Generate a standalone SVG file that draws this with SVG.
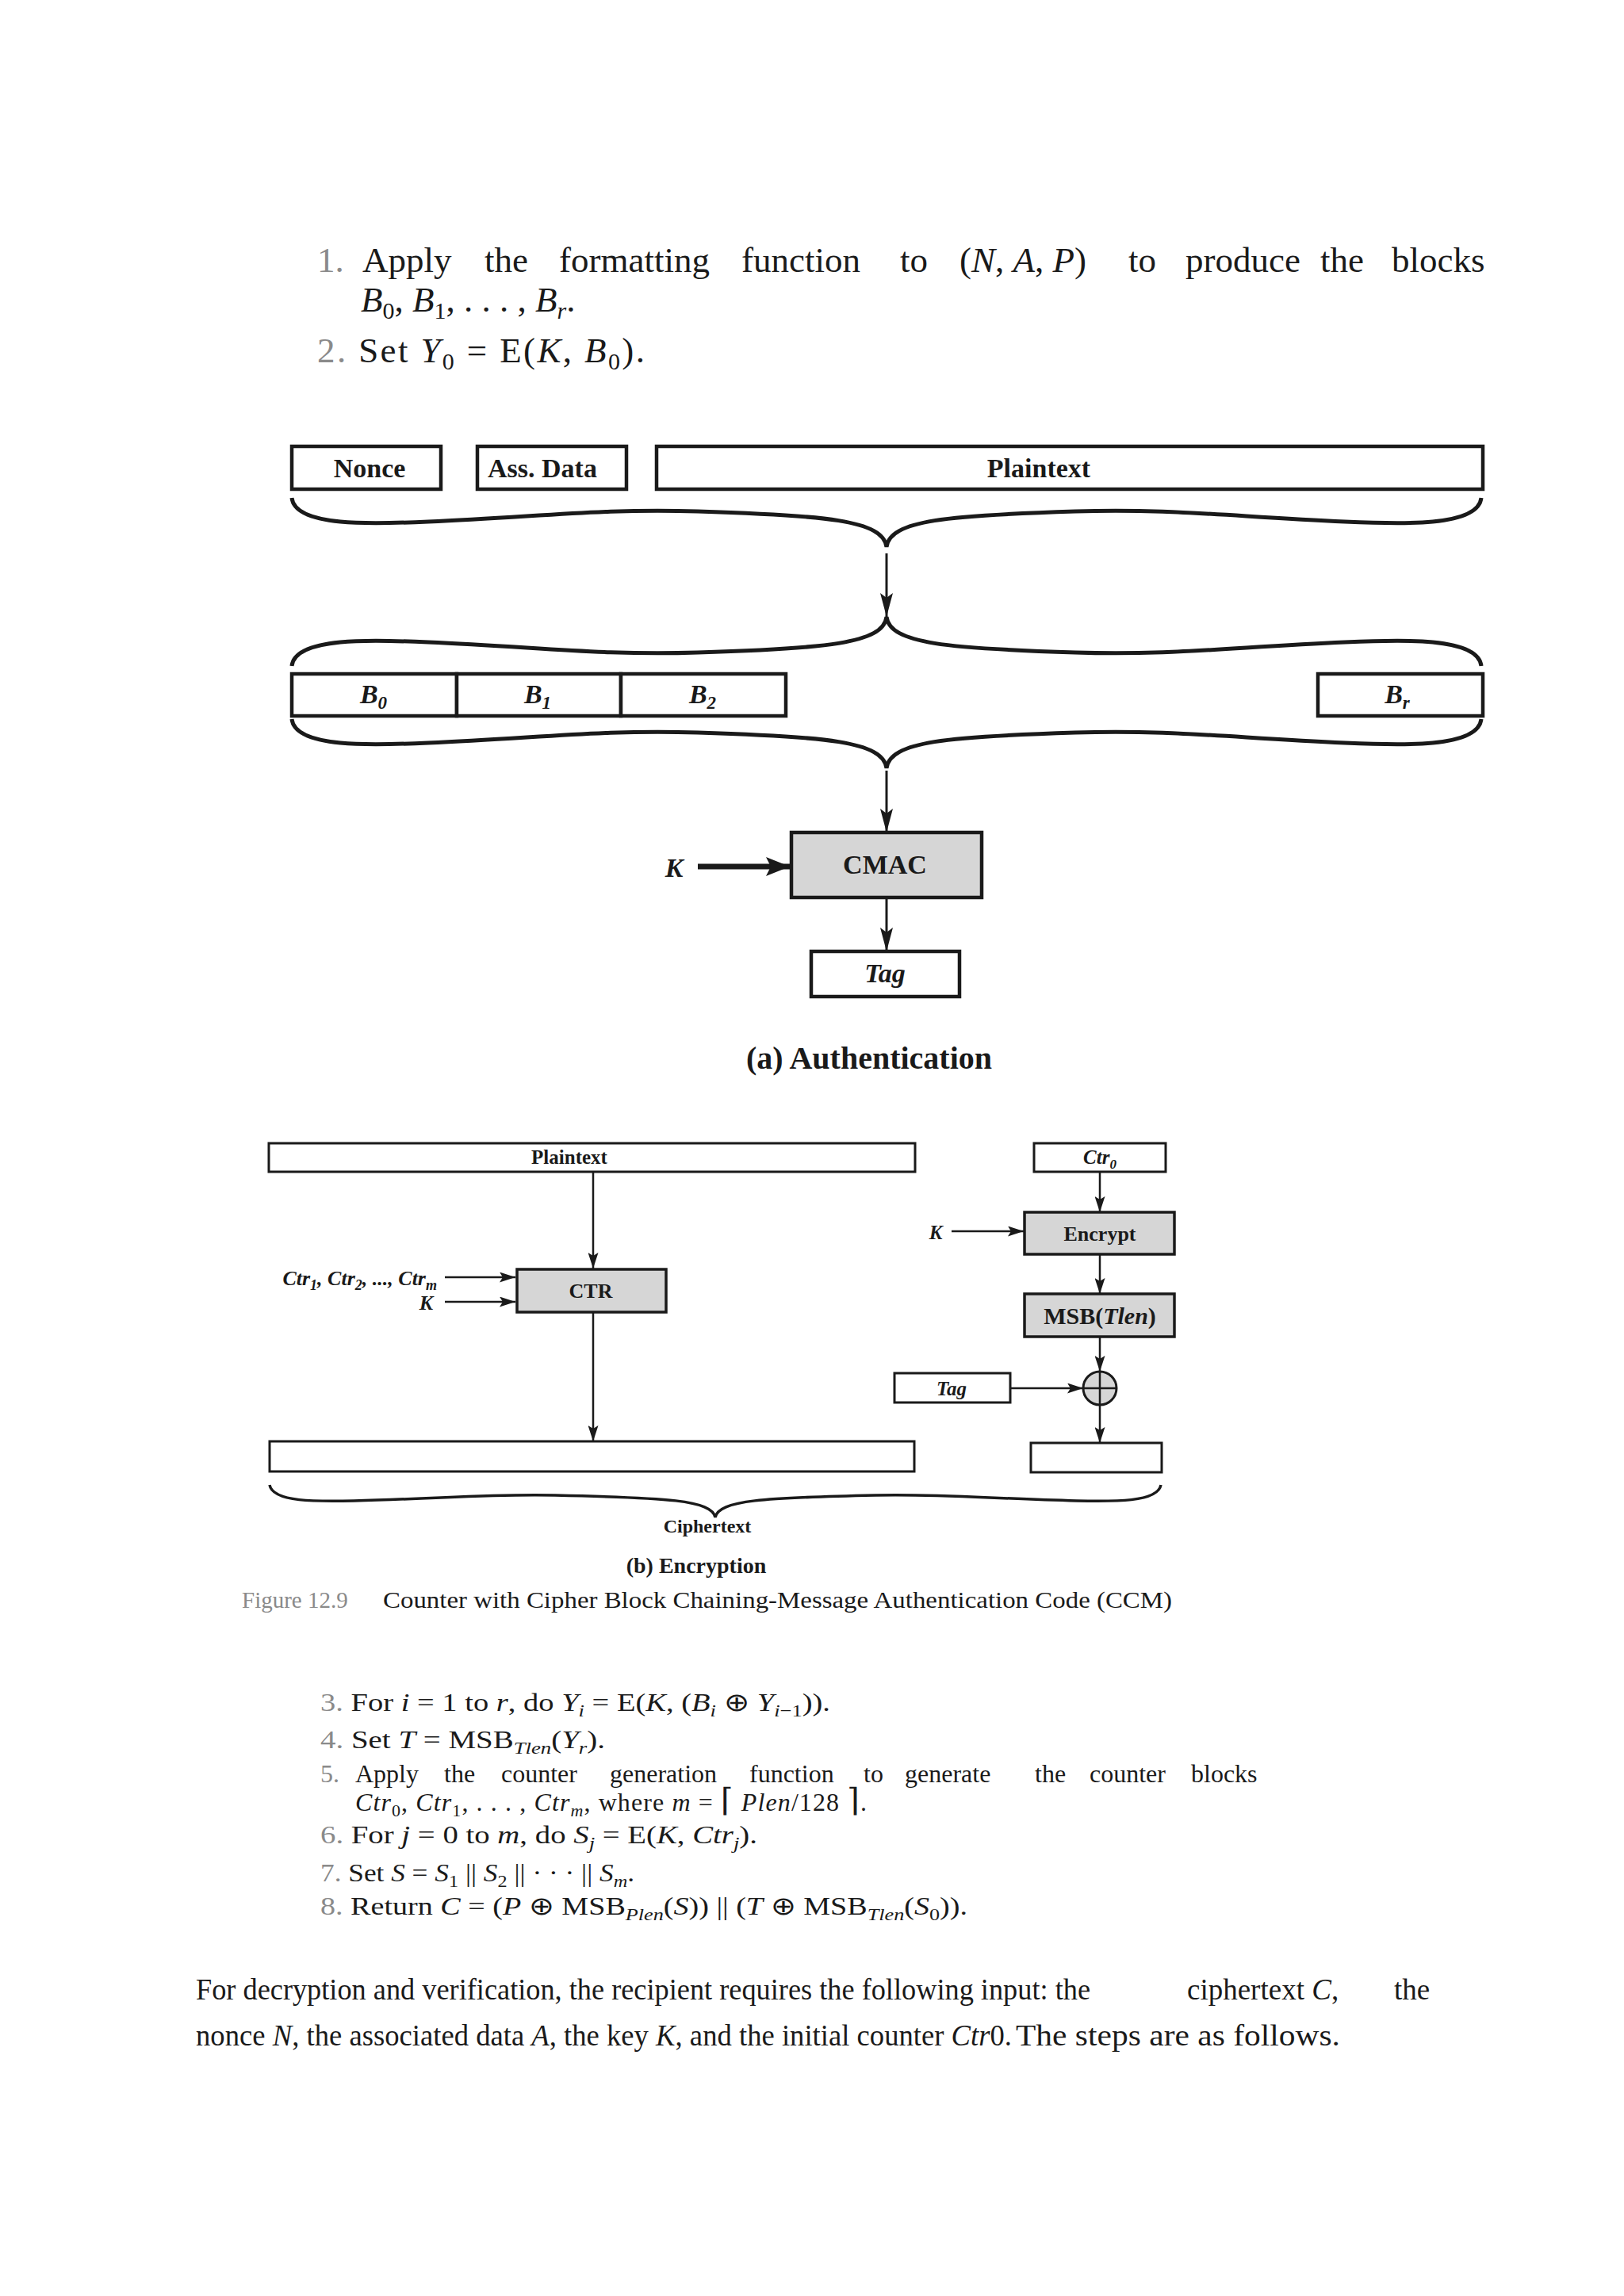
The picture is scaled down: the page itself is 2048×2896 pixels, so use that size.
<svg xmlns="http://www.w3.org/2000/svg" width="2048" height="2896" viewBox="0 0 2048 2896">
<style>
text{font-family:"Liberation Serif","Times New Roman",serif;fill:#1a1a1a}
.num{fill:#8a8a8a}
.t44{font-size:45px}
.t32{font-size:32px}
.para{font-size:37px}
.lab{font-size:34px;font-weight:bold;text-anchor:middle}
.labb{font-size:25px;font-weight:bold;text-anchor:middle}
.it{font-style:italic}
.boxA{fill:#fff;stroke:#1a1a1a;stroke-width:4.5}
.boxAg{fill:#d6d6d6;stroke:#1a1a1a;stroke-width:4.5}
.boxB{fill:#fff;stroke:#1a1a1a;stroke-width:3}
.boxBg{fill:#d6d6d6;stroke:#1a1a1a;stroke-width:3.5}
.brace{fill:none;stroke:#1a1a1a;stroke-width:5}
.braceB{fill:none;stroke:#1a1a1a;stroke-width:3.5}
.arA{stroke:#1a1a1a;stroke-width:3;fill:none}
.arB{stroke:#1a1a1a;stroke-width:2.5;fill:none}
</style>
<defs>
<marker id="mA" markerUnits="userSpaceOnUse" markerWidth="30" markerHeight="16" refX="30" refY="8" orient="auto"><path d="M0,0 L30,8 L0,16 L6,8 z" fill="#1a1a1a"/></marker>
<marker id="mK" markerUnits="userSpaceOnUse" markerWidth="30" markerHeight="24" refX="30" refY="12" orient="auto"><path d="M0,0 L30,12 L0,24 L6,12 z" fill="#1a1a1a"/></marker>
<marker id="mB" markerUnits="userSpaceOnUse" markerWidth="20" markerHeight="13" refX="20" refY="6.5" orient="auto"><path d="M0,0 L20,6.5 L0,13 L4,6.5 z" fill="#1a1a1a"/></marker>
</defs>
<rect width="2048" height="2896" fill="#fff"/>

<!-- top text -->
<g id="steps-top">
<text class="t44" y="343"><tspan class="num" x="400">1.</tspan><tspan x="457">Apply</tspan><tspan x="611">the</tspan><tspan x="705">formatting</tspan><tspan x="935">function</tspan><tspan x="1135">to</tspan><tspan x="1210">(<tspan class="it">N</tspan>, <tspan class="it">A</tspan>, <tspan class="it">P</tspan>)</tspan><tspan x="1423">to</tspan><tspan x="1495">produce</tspan><tspan x="1665">the</tspan><tspan x="1755">blocks</tspan></text>
<text class="t44" x="455" y="393"><tspan class="it">B</tspan><tspan font-size="30" baseline-shift="-9">0</tspan>, <tspan class="it">B</tspan><tspan font-size="30" baseline-shift="-9">1</tspan>, . . . , <tspan class="it">B</tspan><tspan class="it" font-size="30" baseline-shift="-9">r</tspan>.</text>
<text class="t44" x="400" y="457" textLength="413" lengthAdjust="spacing"><tspan class="num">2.</tspan> Set <tspan class="it">Y</tspan><tspan font-size="30" baseline-shift="-9">0</tspan>  =  E(<tspan class="it">K</tspan>, <tspan class="it">B</tspan><tspan font-size="30" baseline-shift="-9">0</tspan>).</text>
</g>

<!-- (a) Authentication -->
<g id="connectors-a">
<path class="brace" d="M 368 628 C 372 665 470 661 540 658 C 680 652 760 641 880 645 C 1040 650 1114 656 1118 690 C 1122 656 1196 650 1356 645 C 1476 641 1556 652 1696 658 C 1766 661 1864 665 1868 628"/>
<line class="arA" x1="1118" y1="698" x2="1118" y2="778" marker-end="url(#mA)"/>
<path class="brace" d="M 368 840 C 372 803 470 807 540 810 C 680 816 760 827 880 823 C 1040 818 1114 812 1118 778 C 1122 812 1196 818 1356 823 C 1476 827 1556 816 1696 810 C 1766 807 1864 803 1868 840"/>
<path class="brace" d="M 368 907 C 372 944 470 940 540 937 C 680 931 760 920 880 924 C 1040 929 1114 935 1118 969 C 1122 935 1196 929 1356 924 C 1476 920 1556 931 1696 937 C 1766 940 1864 944 1868 907"/>
<line class="arA" x1="1118" y1="972" x2="1118" y2="1050" marker-end="url(#mA)"/>
<line stroke="#1a1a1a" stroke-width="7" x1="880" y1="1093" x2="996" y2="1093" marker-end="url(#mK)"/>
<line class="arA" x1="1118" y1="1134" x2="1118" y2="1200" marker-end="url(#mA)"/>
</g>
<g id="nonce"><rect class="boxA" x="368" y="563" width="188" height="54"/><text class="lab" x="466" y="602">Nonce</text></g>
<g id="assdata"><rect class="boxA" x="602" y="563" width="188" height="54"/><text class="lab" x="684" y="602">Ass. Data</text></g>
<g id="plaintext-a"><rect class="boxA" x="828" y="563" width="1042" height="54"/><text class="lab" x="1310" y="602">Plaintext</text></g>
<g id="b0"><rect class="boxA" x="368" y="850" width="208" height="53"/><text class="lab it" x="471" y="887">B<tspan font-size="23" baseline-shift="-7">0</tspan></text></g>
<g id="b1"><rect class="boxA" x="576" y="850" width="207" height="53"/><text class="lab it" x="678" y="887">B<tspan font-size="23" baseline-shift="-7">1</tspan></text></g>
<g id="b2"><rect class="boxA" x="783" y="850" width="208" height="53"/><text class="lab it" x="886" y="887">B<tspan font-size="23" baseline-shift="-7">2</tspan></text></g>
<g id="br"><rect class="boxA" x="1662" y="850" width="208" height="53"/><text class="lab it" x="1762" y="887">B<tspan font-size="23" baseline-shift="-7">r</tspan></text></g>
<g id="cmac"><rect class="boxAg" x="998" y="1050" width="240" height="82"/><text class="lab" x="1116" y="1102">CMAC</text></g>
<g id="k-a"><text class="lab it" x="850" y="1106">K</text></g>
<g id="tag-a"><rect class="boxA" x="1023" y="1200" width="187" height="57"/><text class="lab it" x="1116" y="1239">Tag</text></g>
<text x="1096" y="1348" style="font-size:40px;font-weight:bold;text-anchor:middle">(a) Authentication</text>

<!-- (b) Encryption -->
<g id="connectors-b">
<line class="arB" x1="748" y1="1478" x2="748" y2="1600" marker-end="url(#mB)"/>
<line class="arB" stroke-width="3.5" x1="561" y1="1611" x2="650" y2="1611" marker-end="url(#mB)"/>
<line class="arB" stroke-width="3.5" x1="561" y1="1642" x2="650" y2="1642" marker-end="url(#mB)"/>
<line class="arB" x1="748" y1="1656" x2="748" y2="1818" marker-end="url(#mB)"/>
<line class="arB" x1="1387" y1="1478" x2="1387" y2="1529" marker-end="url(#mB)"/>
<line class="arB" x1="1200" y1="1553" x2="1291" y2="1553" marker-end="url(#mB)"/>
<line class="arB" x1="1387" y1="1582" x2="1387" y2="1632" marker-end="url(#mB)"/>
<line class="arB" x1="1387" y1="1686" x2="1387" y2="1730" marker-end="url(#mB)"/>
<line class="arB" x1="1274" y1="1751" x2="1366" y2="1751" marker-end="url(#mB)"/>
<line class="arB" x1="1387" y1="1772" x2="1387" y2="1820" marker-end="url(#mB)"/>
<path class="braceB" d="M 340 1873 C 344 1895 400 1894 446 1893 C 560 1890 620 1884 700 1886 C 840 1889 898 1892 902 1914 C 906 1892 964 1889 1104 1886 C 1184 1884 1244 1890 1358 1893 C 1404 1894 1460 1895 1464 1873"/>
</g>
<g id="plaintext-b"><rect class="boxB" x="339" y="1442" width="815" height="36"/><text class="labb" x="718" y="1468">Plaintext</text></g>
<g id="ctr"><rect class="boxBg" x="652" y="1601" width="188" height="54"/><text class="labb" style="font-size:26px" x="745" y="1637">CTR</text></g>
<g id="ctr-inputs"><text class="labb it" style="text-anchor:end;font-size:26px" x="551" y="1621">Ctr<tspan font-size="18" baseline-shift="-6">1</tspan>, Ctr<tspan font-size="18" baseline-shift="-6">2</tspan>, ..., Ctr<tspan font-size="18" baseline-shift="-6">m</tspan></text><text class="labb it" style="text-anchor:end;font-size:26px" x="546" y="1652">K</text></g>
<g id="ctr0"><rect class="boxB" x="1304" y="1442" width="166" height="36"/><text class="labb it" x="1387" y="1468">Ctr<tspan font-size="17" baseline-shift="-6">0</tspan></text></g>
<g id="encrypt"><rect class="boxBg" x="1292" y="1529" width="189" height="53"/><text class="labb" style="font-size:26px" x="1387" y="1565">Encrypt</text></g>
<g id="k-b"><text class="labb it" x="1180" y="1563">K</text></g>
<g id="msb"><rect class="boxBg" x="1292" y="1632" width="189" height="54"/><text class="labb" style="font-size:30px" x="1387" y="1670">MSB(<tspan class="it">Tlen</tspan>)</text></g>
<g id="xor"><circle cx="1387" cy="1751" r="21" fill="#d6d6d6" stroke="#1a1a1a" stroke-width="3"/><line x1="1366" y1="1751" x2="1408" y2="1751" stroke="#1a1a1a" stroke-width="2.5"/><line x1="1387" y1="1730" x2="1387" y2="1772" stroke="#1a1a1a" stroke-width="2.5"/></g>
<g id="tag-b"><rect class="boxB" x="1128" y="1732" width="146" height="37"/><text class="labb it" x="1200" y="1760">Tag</text></g>
<g id="cipher1"><rect class="boxB" x="340" y="1818" width="813" height="38"/></g>
<g id="cipher2"><rect class="boxB" x="1300" y="1820" width="165" height="37"/></g>
<text class="labb" style="font-size:24px" x="892" y="1933">Ciphertext</text>
<text x="878" y="1984" style="font-size:28px;font-weight:bold;text-anchor:middle">(b) Encryption</text>
<text font-size="29" y="2028"><tspan class="num" x="305">Figure 12.9</tspan><tspan x="483" textLength="995" lengthAdjust="spacingAndGlyphs">Counter with Cipher Block Chaining-Message Authentication Code (CCM)</tspan></text>

<!-- steps 3-8 -->
<g id="steps-bottom">
<text class="t32" x="404" y="2158" textLength="643" lengthAdjust="spacingAndGlyphs"><tspan class="num">3.</tspan> For <tspan class="it">i</tspan>  =  1 to <tspan class="it">r</tspan>, do <tspan class="it">Y<tspan font-size="22" baseline-shift="-7">i</tspan></tspan>  =  E(<tspan class="it">K</tspan>, (<tspan class="it">B<tspan font-size="22" baseline-shift="-7">i</tspan></tspan> ⊕ <tspan class="it">Y<tspan font-size="22" baseline-shift="-7">i</tspan></tspan><tspan font-size="22" baseline-shift="-7">−1</tspan>)).</text>
<text class="t32" x="404" y="2205" textLength="359" lengthAdjust="spacingAndGlyphs"><tspan class="num">4.</tspan> Set <tspan class="it">T</tspan>  =  MSB<tspan class="it" font-size="22" baseline-shift="-7">Tlen</tspan>(<tspan class="it">Y<tspan font-size="22" baseline-shift="-7">r</tspan></tspan>).</text>
<text class="t32" y="2248"><tspan class="num" x="404">5.</tspan><tspan x="448">Apply</tspan><tspan x="560">the</tspan><tspan x="632">counter</tspan><tspan x="769">generation</tspan><tspan x="945">function</tspan><tspan x="1089">to</tspan><tspan x="1141">generate</tspan><tspan x="1305">the</tspan><tspan x="1374">counter</tspan><tspan x="1502">blocks</tspan></text>
<text class="t32" x="448" y="2284" textLength="645" lengthAdjust="spacing"><tspan class="it">Ctr</tspan><tspan font-size="22" baseline-shift="-7">0</tspan>, <tspan class="it">Ctr</tspan><tspan font-size="22" baseline-shift="-7">1</tspan>,  . . . , <tspan class="it">Ctr<tspan font-size="22" baseline-shift="-7">m</tspan></tspan>, where <tspan class="it">m</tspan>  =  <tspan font-size="40" font-family="DejaVu Serif, serif">⌈</tspan> <tspan class="it">Plen</tspan>/128 <tspan font-size="40" font-family="DejaVu Serif, serif">⌉</tspan>.</text>
<text class="t32" x="404" y="2325" textLength="551" lengthAdjust="spacingAndGlyphs"><tspan class="num">6.</tspan> For <tspan class="it">j</tspan>  =  0 to <tspan class="it">m</tspan>, do <tspan class="it">S<tspan font-size="22" baseline-shift="-7">j</tspan></tspan>  =  E(<tspan class="it">K</tspan>, <tspan class="it">Ctr<tspan font-size="22" baseline-shift="-7">j</tspan></tspan>).</text>
<text class="t32" x="404" y="2373" textLength="396" lengthAdjust="spacingAndGlyphs"><tspan class="num">7.</tspan> Set <tspan class="it">S</tspan>  =  <tspan class="it">S</tspan><tspan font-size="22" baseline-shift="-7">1</tspan> || <tspan class="it">S</tspan><tspan font-size="22" baseline-shift="-7">2</tspan> || · · · || <tspan class="it">S<tspan font-size="22" baseline-shift="-7">m</tspan></tspan>.</text>
<text class="t32" x="404" y="2415" textLength="816" lengthAdjust="spacingAndGlyphs"><tspan class="num">8.</tspan> Return <tspan class="it">C</tspan>  =  (<tspan class="it">P</tspan> ⊕ MSB<tspan class="it" font-size="22" baseline-shift="-7">Plen</tspan>(<tspan class="it">S</tspan>)) || (<tspan class="it">T</tspan> ⊕ MSB<tspan class="it" font-size="22" baseline-shift="-7">Tlen</tspan>(<tspan class="it">S</tspan><tspan font-size="22" baseline-shift="-7">0</tspan>)).</text>
</g>

<!-- paragraph -->
<g id="paragraph">
<text class="para" y="2522"><tspan x="247" textLength="1128" lengthAdjust="spacingAndGlyphs">For decryption and verification, the recipient requires the following input: the</tspan></text>
<text class="para" x="1497" y="2522">ciphertext <tspan class="it">C</tspan>,</text>
<text class="para" x="1758" y="2522">the</text>
<text class="para" x="247" y="2580" textLength="1029" lengthAdjust="spacingAndGlyphs">nonce <tspan class="it">N</tspan>, the associated data <tspan class="it">A</tspan>, the key <tspan class="it">K</tspan>, and the initial counter <tspan class="it">Ctr</tspan>0.</text>
<text class="para" x="1281" y="2580" textLength="409" lengthAdjust="spacingAndGlyphs">The steps are as follows.</text>
</g>
</svg>
